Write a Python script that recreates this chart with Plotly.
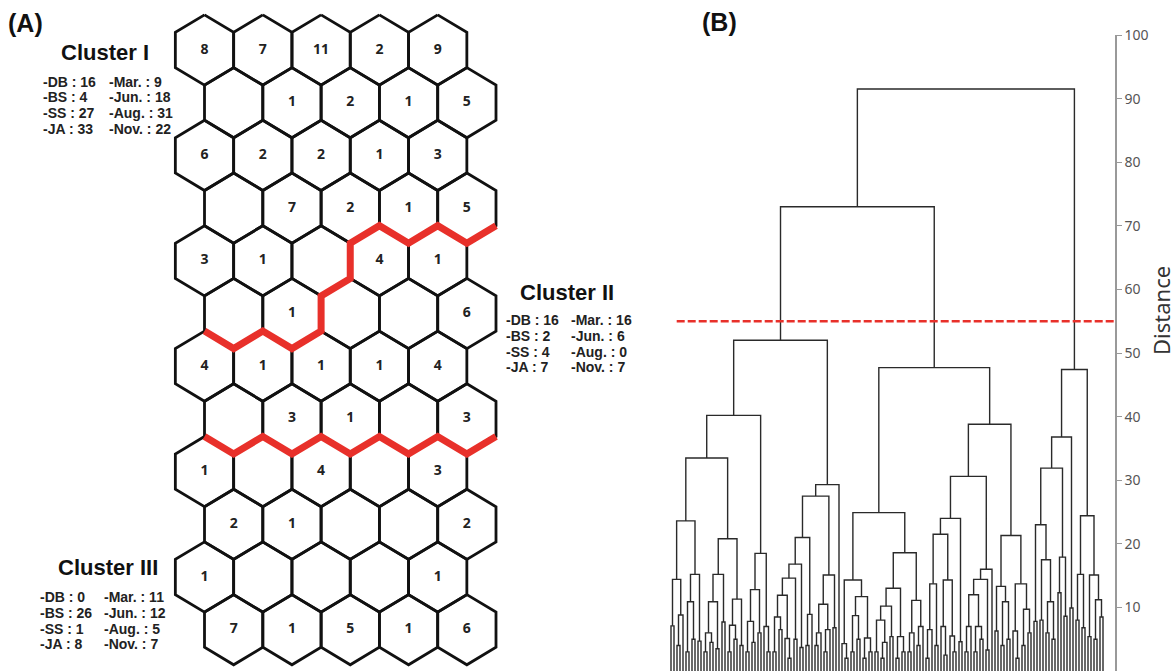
import re
import plotly.graph_objects as go

# ---------------- Panel A data: SOM hit counts (12 rows x 5 columns, None = empty) -------------
som_counts = [
    [8, 7, 11, 2, 9],
    [None, 1, 2, 1, 5],
    [6, 2, 2, 1, 3],
    [None, 7, 2, 1, 5],
    [3, 1, None, 4, 1],
    [None, 1, None, None, 6],
    [4, 1, 1, 1, 4],
    [None, 3, 1, None, 3],
    [1, None, 4, None, 3],
    [2, 1, None, None, 2],
    [1, None, None, None, 1],
    [7, 1, 5, 1, 6],
]
# cluster boundaries as (row, col, vertex) references; vertex 0=top,1=upper-right,2=lower-right,3=bottom,4=lower-left,5=upper-left
boundary_1 = [(3, 4, 2), (3, 4, 3), (3, 3, 2), (3, 3, 3), (3, 2, 2), (3, 2, 3),
              (4, 2, 2), (4, 2, 3), (5, 1, 2), (5, 1, 3), (5, 0, 2), (5, 0, 3), (5, 0, 4)]
boundary_2 = [(7, 0, 4), (7, 0, 3), (7, 1, 4), (7, 1, 3), (7, 2, 4), (7, 2, 3), (7, 3, 4),
              (7, 3, 3), (7, 4, 4), (7, 4, 3), (7, 4, 2)]

cluster_names = ["Cluster I", "Cluster II", "Cluster III"]
cluster_sites = [["-DB : 16", "-BS : 4", "-SS : 27", "-JA : 33"],
                 ["-DB : 16", "-BS : 2", "-SS : 4", "-JA : 7"],
                 ["-DB : 0", "-BS : 26", "-SS : 1", "-JA : 8"]]
cluster_months = [["-Mar. : 9", "-Jun. : 18", "-Aug. : 31", "-Nov. : 22"],
                  ["-Mar. : 16", "-Jun. : 6", "-Aug. : 0", "-Nov. : 7"],
                  ["-Mar. : 11", "-Jun. : 12", "-Aug. : 5", "-Nov. : 7"]]

# ---------------- Panel B data: dendrogram (Newick-like, leaves = x, node label = distance) ------
A1a1 = "(((x,x)7.1,((x,x)4,x)8.8)14.4,(((x,x)3,(x,x)5)10.9,(x,x)4.7)15.2)23.6"
A1a2 = "(((((x,x)3,(x,x)4.5)6,(x,x)3.5)10.9,(x,x)7.7)15.2,(((x,x)3,(x,x)5)7.2,(x,x)4)11.3)20.8"
A1b = "((((x,x)3,(x,x)4.5)7.8,(x,x)6)12.8,(x,(x,x)3)7)18.5"
A2l = "((((((x,x)3,(x,x)6.5)8.5,(x,(x,x)2)5.1)11.9,(x,x)5)14.6,(x,x)3.7)16.8,((x,x)4,x)8.9)21.0"
A2r = "((((x,x)4,x)6,((x,x)3,x)6.5)10.5,(x,x)6.8)15.1"
B1l = "((x,(x,x)2)4.3,(((x,x)3,(x,x)5)8.7,((x,x)2,(x,x)3)5.2)11.7)14.3"
B1r = "((((x,x)3,((x,x)2,x)4.5)8,(x,x)5.4)10.2,((x,x)2,(x,x)3)5.4)13.0"
B1s = "(((x,x)3,x)6,((x,x)4,x)7)11.1"
B2a = "((((x,x)2,x)6.5,(x,x)4)13.7,((x,(x,x)2.5)7,(x,(x,x)3)5.5)14.3)21.5"
B2b = "((((x,x)3,x)7,((x,x)3,(x,x)5)7)12.0,(x,x)3.3)14.4"
B2c = "(((x,x)6.3,((x,x)4,(x,x)5)10.9)13.3,((x,(x,x)2)6.3,((x,x)4,(x,x)6)9.7)13.7)21.3"
C1 = "((x,x)7.8,((x,x)8.0,((x,x)6,(x,x)5)10.9)17.5)23.0"
C2 = "(((x,x)8.0,(x,x)6.8)15.2,((x,x)5.4,((x,x)5,(x,x)8.5)11.2)15.1)24.4"

branch_A = f"((({A1a1},{A1a2})33.5,{A1b})40.2,(({A2l},{A2r})27.5,x)29.3)52.0"
branch_B = f"(({B1l},({B1r},{B1s})18.6)24.9,((({B2a},(x,x)4.6)24.0,({B2b},x)16.0)30.6,{B2c})38.8)47.7"
branch_C = f"((({C1},((x,x)12.3,(x,x)8.6)17.9)31.9,(x,x)9.9)36.8,{C2})47.4"
tree = f"(({branch_A},{branch_B})73.0,{branch_C})91.5"
cut_height = 55
dist_ticks = [10, 20, 30, 40, 50, 60, 70, 80, 90, 100]


def parse(s):
    pos = 0

    def node():
        nonlocal pos
        if s[pos] == "x":
            pos += 1
            return None
        pos += 1
        left = node()
        pos += 1
        right = node()
        pos += 1
        m = re.match(r"[0-9.]+", s[pos:])
        pos += len(m.group())
        return (float(m.group()), left, right)

    return node()


root = parse(tree)
seg_x, seg_y = [], []
counter = [0]


def layout_node(n):
    if n is None:
        x = counter[0]
        counter[0] += 1
        return x, 0.0
    h, l, r = n
    xl, hl = layout_node(l)
    xr, hr = layout_node(r)
    seg_x.extend([xl, xl, xr, xr, None])
    seg_y.extend([hl, h, h, hr, None])
    return (xl + xr) / 2, h


layout_node(root)
n_leaves = counter[0]

W, H = 1176, 672
fig = go.Figure()

# ---------------- Panel A: hexagon grid -----------------
HX, HW, RV, HE, RS = 204.5, 58.3, 35.1, 17.6, 52.7
Y0 = 50.0


def hex_center(r, c):
    return HX + HW * c + (HW / 2 if r % 2 else 0), Y0 + RS * r


def hex_vertex(r, c, k):
    cx, cy = hex_center(r, c)
    off = [(0, -RV), (HW / 2, -HE), (HW / 2, HE), (0, RV), (-HW / 2, HE), (-HW / 2, -HE)][k]
    return cx + off[0], cy + off[1]


hx, hy, tx, ty, tt = [], [], [], [], []
for r, row in enumerate(som_counts):
    for c, v in enumerate(row):
        for k in list(range(6)) + [0]:
            px, py = hex_vertex(r, c, k)
            hx.append(px)
            hy.append(py)
        hx.append(None)
        hy.append(None)
        if v is not None:
            cx, cy = hex_center(r, c)
            tx.append(cx)
            ty.append(cy)
            tt.append(str(v))

fig.add_trace(go.Scatter(x=hx, y=hy, mode="lines", line=dict(color="#111", width=2.8),
                         xaxis="x", yaxis="y", hoverinfo="skip"))
for b in (boundary_1, boundary_2):
    pts = [hex_vertex(*p) for p in b]
    fig.add_trace(go.Scatter(x=[p[0] for p in pts], y=[p[1] for p in pts], mode="lines",
                             line=dict(color="#e8302a", width=7), xaxis="x", yaxis="y",
                             hoverinfo="skip"))
fig.add_trace(go.Scatter(x=tx, y=ty, mode="text", text=tt,
                         textfont=dict(family="Noto Sans", size=14, color="#222", weight="bold"),
                         xaxis="x", yaxis="y", hoverinfo="skip"))

# ---------------- Panel B: dendrogram -----------------
fig.add_trace(go.Scatter(x=seg_x, y=seg_y, mode="lines", line=dict(color="#2a2a2a", width=1.4),
                         xaxis="x2", yaxis="y2", hoverinfo="skip"))
fig.add_trace(go.Scatter(x=[1.9, 148], y=[cut_height, cut_height], mode="lines",
                         line=dict(color="#e8302a", width=2.6, dash="8px,3px"),
                         xaxis="x2", yaxis="y2", hoverinfo="skip", cliponaxis=False))

ann = []
title_pos = [(105, 52), (567, 292), (108, 567)]
stat_pos = [(41, 107, 81.5), (504, 569, 320), (38, 102, 597)]
for i in range(3):
    ann.append(dict(x=title_pos[i][0], y=title_pos[i][1], text=f"<b>{cluster_names[i]}</b>",
                    showarrow=False, xref="x", yref="y", xanchor="center", yanchor="middle",
                    font=dict(family="Liberation Sans", size=22, color="#111")))
    x1, x2, y1 = stat_pos[i]
    for j in range(4):
        ann.append(dict(x=x1, y=y1 + 15.8 * j, text=f"<b>{cluster_sites[i][j]}</b>", showarrow=False,
                        xref="x", yref="y", xanchor="left", yanchor="middle",
                        font=dict(family="Liberation Sans", size=14, color="#222")))
        ann.append(dict(x=x2, y=y1 + 15.8 * j, text=f"<b>{cluster_months[i][j]}</b>", showarrow=False,
                        xref="x", yref="y", xanchor="left", yanchor="middle",
                        font=dict(family="Liberation Sans", size=14, color="#222")))
ann.append(dict(x=25, y=23, text="<b>(A)</b>", showarrow=False, xref="x", yref="y",
                font=dict(family="Liberation Sans", size=25, color="#111")))
ann.append(dict(x=719, y=22, text="<b>(B)</b>", showarrow=False, xref="x", yref="y",
                font=dict(family="Liberation Sans", size=25, color="#111")))
ann.append(dict(x=1161, y=311, text="Distance", showarrow=False, xref="x", yref="y", textangle=-90,
                font=dict(family="Noto Sans", size=22, color="#333")))

fig.update_layout(
    width=W, height=H, margin=dict(l=0, r=0, t=0, b=0, pad=0, autoexpand=False),
    paper_bgcolor="white", plot_bgcolor="rgba(0,0,0,0)", showlegend=False,
    xaxis=dict(domain=[0, 1], range=[0, W], visible=False, fixedrange=True, automargin=False),
    yaxis=dict(domain=[0, 1], range=[H, 0], visible=False, fixedrange=True, automargin=False),
    xaxis2=dict(domain=[660 / W, 1115 / W], range=[-3.667, 148], visible=False, anchor="y2",
                automargin=False),
    yaxis2=dict(domain=[1 / H, 637 / H], range=[0, 100], anchor="x2", side="right",
                showline=True, linecolor="#999", linewidth=1.5, ticks="outside", ticklen=5,
                tickcolor="#999", tickvals=dist_ticks, showgrid=False, zeroline=False,
                automargin=False,
                tickfont=dict(family="Noto Sans", size=14, color="#555")),
    annotations=ann,
)
print("leaves", n_leaves)
fig.write_html("out.html", config={"displayModeBar": False},
               post_script="document.body.style.margin='0';document.body.style.padding='0';")
